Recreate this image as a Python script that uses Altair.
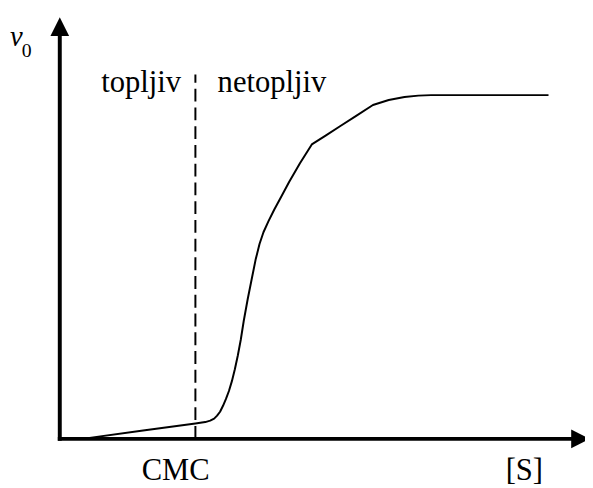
import altair as alt
import pandas as pd

# Curve: reaction rate v0 versus surfactant concentration [S] (arbitrary units)
curve_x = [26.5, 84.5, 137.5, 147.5, 152.5, 156.5, 159.5, 162.5, 165.5, 168.5,
           171.5, 174.5, 177.5, 180.5, 183.5, 186.5, 190.5, 194.5, 198.5, 202.5,
           206.5, 211.5, 217.5, 224.5, 232.5, 243.5, 255.5, 269.5, 284.5, 300.5,
           317.5, 333.5, 349.5, 363.5, 376.5, 495.5]
curve_y = [0.5, 8.5, 15.5, 17.0, 18.5, 20.5, 23.5, 27.5, 33.5, 40.5,
           48.5, 58.5, 70.5, 84.5, 100.5, 119.5, 141.5, 161.5, 181.5, 197.5,
           209.5, 220.5, 232.5, 245.5, 260.5, 279.5, 298.5, 307.5, 317.2, 327.5,
           338.5, 343.5, 346.5, 348.0, 348.5, 348.5]

# CMC marker
cmc_x = [137.5]
cmc_top = [369.5]

# Axis segments
axis_x = [-2, 0]
axis_x2 = [520, 0]
axis_y = [0, -2]
axis_y2 = [0, 410]

# Arrow heads
arrow_up_x = [0]
arrow_up_y = [418]
arrow_right_x = [528]
arrow_right_y = [0]

# Labels
region_labels = ["topljiv", "netopljiv"]
region_x = [42, 160]
region_y = [351.5, 351.5]

axis_labels = ["CMC", "[S]"]
axis_label_x = [117.5, 471]
axis_label_y = [-41.5, -41.5]

v_label = ["v"]
v_x = [-50.5]
v_y = [398]
sub_label = ["0"]
sub_x = [-38.5]
sub_y = [387.5]

W, H = 585, 480
xs = alt.Scale(domain=[-52.5, 532.5], nice=False, zero=False)
ys = alt.Scale(domain=[-46.5, 433.5], nice=False, zero=False)
FONT = "Liberation Serif"

curve = alt.Chart(pd.DataFrame({"x": curve_x, "y": curve_y})).mark_line(
    color="black", strokeWidth=2, interpolate="linear", strokeJoin="round"
).encode(x=alt.X("x:Q", scale=xs, axis=None), y=alt.Y("y:Q", scale=ys, axis=None))

dashed = alt.Chart(pd.DataFrame({"x": cmc_x, "y": [0], "y2": cmc_top})).mark_rule(
    color="black", strokeWidth=2, strokeDash=[13, 6]
).encode(x=alt.X("x:Q", scale=xs, axis=None), y=alt.Y("y:Q", scale=ys, axis=None), y2="y2:Q")

axes = alt.Chart(pd.DataFrame({"x": axis_x, "x2": axis_x2, "y": axis_y, "y2": axis_y2})).mark_rule(
    color="black", strokeWidth=4
).encode(x=alt.X("x:Q", scale=xs, axis=None), x2="x2:Q",
         y=alt.Y("y:Q", scale=ys, axis=None), y2="y2:Q")

arrow_up = alt.Chart(pd.DataFrame({"x": arrow_up_x, "y": arrow_up_y})).mark_point(
    shape="M0,-1L1,1L-1,1Z", size=361, filled=True, color="black", opacity=1, strokeWidth=0
).encode(x=alt.X("x:Q", scale=xs, axis=None), y=alt.Y("y:Q", scale=ys, axis=None))

arrow_right = alt.Chart(pd.DataFrame({"x": arrow_right_x, "y": arrow_right_y})).mark_point(
    shape="M1,0L-1,-1L-1,1Z", size=361, filled=True, color="black", opacity=1, strokeWidth=0
).encode(x=alt.X("x:Q", scale=xs, axis=None), y=alt.Y("y:Q", scale=ys, axis=None))

region_text = alt.Chart(pd.DataFrame({"x": region_x, "y": region_y, "t": region_labels})).mark_text(
    font=FONT, fontSize=31, align="left", baseline="alphabetic", color="black"
).encode(x=alt.X("x:Q", scale=xs, axis=None), y=alt.Y("y:Q", scale=ys, axis=None), text="t:N")

axis_text = alt.Chart(pd.DataFrame({"x": axis_label_x, "y": axis_label_y, "t": axis_labels})).mark_text(
    font=FONT, fontSize=31, align="center", baseline="alphabetic", color="black"
).encode(x=alt.X("x:Q", scale=xs, axis=None), y=alt.Y("y:Q", scale=ys, axis=None), text="t:N")

v_text = alt.Chart(pd.DataFrame({"x": v_x, "y": v_y, "t": v_label})).mark_text(
    font=FONT, fontSize=29, fontStyle="italic", align="left", baseline="alphabetic", color="black"
).encode(x=alt.X("x:Q", scale=xs, axis=None), y=alt.Y("y:Q", scale=ys, axis=None), text="t:N")

sub_text = alt.Chart(pd.DataFrame({"x": sub_x, "y": sub_y, "t": sub_label})).mark_text(
    font=FONT, fontSize=20, align="left", baseline="alphabetic", color="black"
).encode(x=alt.X("x:Q", scale=xs, axis=None), y=alt.Y("y:Q", scale=ys, axis=None), text="t:N")

chart = alt.layer(
    dashed, curve, axes, arrow_up, arrow_right, region_text, axis_text, v_text, sub_text
).properties(
    width=W, height=H, autosize=alt.AutoSizeParams(type="none"), padding=0, background="white"
).configure_view(stroke=None)

chart.save("out.html", embed_options={"renderer": "svg", "actions": False})
